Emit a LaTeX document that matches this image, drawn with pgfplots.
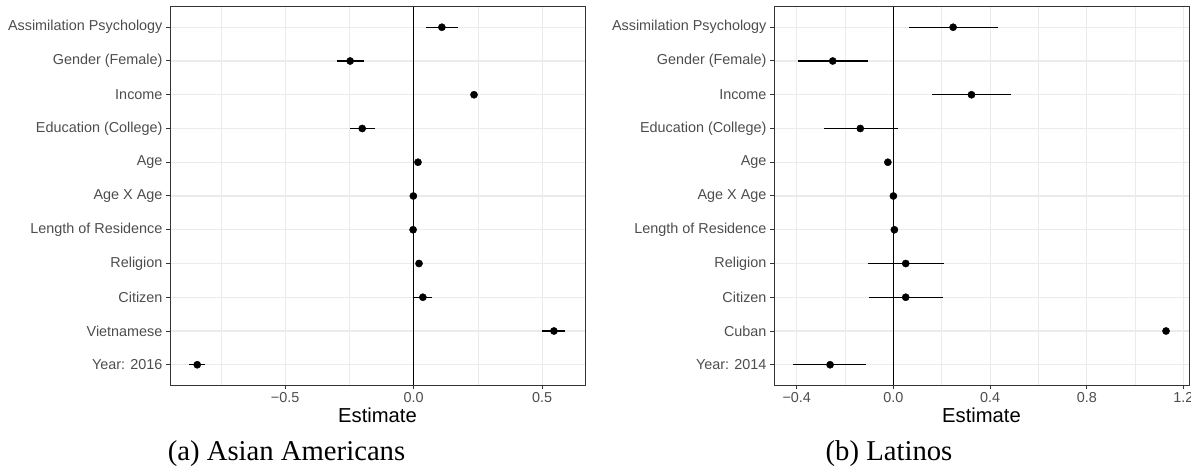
\documentclass[border=0pt]{standalone}
\usepackage{pgfplots}
\pgfplotsset{compat=1.18}
\usepackage{pgfplotstable}
\usepackage{fontspec}
\setmainfont{Liberation Sans}
\newfontfamily\capfont{Liberation Serif}
\definecolor{grey20}{HTML}{333333}
\definecolor{grey30}{HTML}{4D4D4D}
\definecolor{grey92}{HTML}{EBEBEB}

\pgfplotstableread{
pos est lo hi
11 0.110 0.048 0.171
10 -0.247 -0.297 -0.195
9 0.235 0.225 0.245
8 -0.200 -0.248 -0.152
7 0.017 0.010 0.024
6 -0.001 -0.004 0.002
5 -0.002 -0.006 0.002
4 0.021 0.012 0.030
3 0.036 0.001 0.072
2 0.546 0.500 0.591
1 -0.842 -0.876 -0.811
}\asian

\pgfplotstableread{
pos est lo hi
11 0.247 0.065 0.432
10 -0.251 -0.394 -0.105
9 0.323 0.161 0.486
8 -0.137 -0.287 0.017
7 -0.023 -0.030 -0.016
6 0.000 -0.002 0.002
5 0.004 -0.002 0.010
4 0.051 -0.105 0.208
3 0.051 -0.100 0.206
2 1.128 1.118 1.138
1 -0.262 -0.414 -0.112
}\latino

\pgfplotsset{coefstyle/.style={
  scale only axis, width=415pt, height=378pt, anchor=south west,
  ymin=0.4, ymax=11.6, ytick={1,...,11},
  grid=both,
  major grid style={grey92, line width=1.1pt},
  minor grid style={grey92, line width=0.6pt},
  axis line style={grey20, line width=1pt},
  tick style={grey20, line width=1pt},
  major tick length=4pt, minor tick length=0pt, tick align=outside,
  xtick pos=lower, ytick pos=left,
  ticklabel style={font=\fontsize{14.4}{16}\selectfont, text=grey30},
  xlabel=Estimate,
  xlabel style={font=\fontsize{20.2}{24}\selectfont, at={(axis description cs:0.5,0)}, anchor=base, yshift=-37pt},
  /pgf/number format/assume math mode=true,
}}

\begin{document}
\begin{tikzpicture}
\path[use as bounding box] (0,0) rectangle (1201pt,474pt);
\begin{scope}
\clip (0,0) rectangle (1190.5pt,474pt);
\begin{axis}[coefstyle, at={(170pt,89pt)},
  xmin=-0.948, xmax=0.667,
  xtick={-0.5,0,0.5}, xticklabels={−0.5,0.0,0.5},
  minor xtick={-0.75,-0.25,0.25},
  yticklabels={Year: 2016, Vietnamese, Citizen, Religion, Length of Residence, Age X Age, Age, Education (College), Income, Gender (Female), Assimilation Psychology}]
\addplot[black, line width=1.1pt] coordinates {(0,0.4) (0,11.6)};
\addplot[black, only marks, mark=*, mark size=3.6pt,
  error bars/.cd, x dir=both, x explicit, error mark=none,
  error bar style={black, line width=1.2pt}]
  table[x=est, y=pos, x error minus expr=\thisrow{est}-\thisrow{lo}, x error plus expr=\thisrow{hi}-\thisrow{est}] {\asian};
\end{axis}
\begin{axis}[coefstyle, at={(774pt,89pt)},
  xmin=-0.494, xmax=1.223,
  xtick={-0.4,0,0.4,0.8,1.2}, xticklabels={−0.4,0.0,0.4,0.8,1.2},
  minor xtick={-0.2,0.2,0.6,1.0},
  yticklabels={Year: 2014, Cuban, Citizen, Religion, Length of Residence, Age X Age, Age, Education (College), Income, Gender (Female), Assimilation Psychology}]
\addplot[black, line width=1.1pt] coordinates {(0,0.4) (0,11.6)};
\addplot[black, only marks, mark=*, mark size=3.6pt,
  error bars/.cd, x dir=both, x explicit, error mark=none,
  error bar style={black, line width=1.2pt}]
  table[x=est, y=pos, x error minus expr=\thisrow{est}-\thisrow{lo}, x error plus expr=\thisrow{hi}-\thisrow{est}] {\latino};
\end{axis}
\end{scope}
\node[font=\capfont\fontsize{28.7}{32}\selectfont, anchor=base] at (286.5pt,14pt) {(a) Asian Americans};
\node[font=\capfont\fontsize{28.7}{32}\selectfont, anchor=base] at (889pt,14pt) {(b) Latinos};
\end{tikzpicture}
\end{document}
